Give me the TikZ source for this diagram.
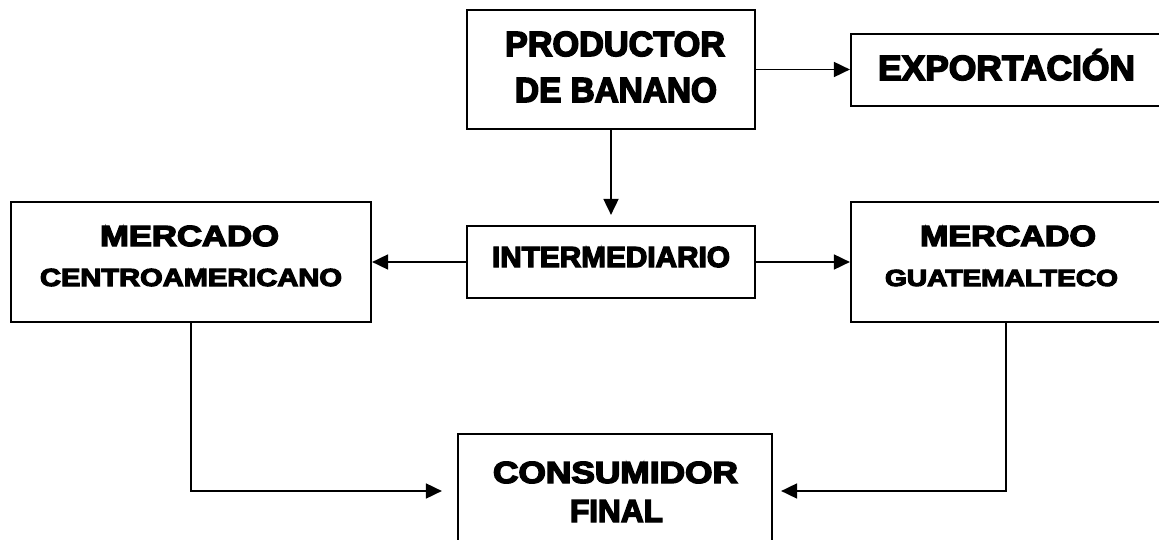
\documentclass[tikz,border=0pt]{standalone}
\usepackage{fontspec}
\usepackage{graphicx}
\setmainfont{Liberation Sans}
\newfontfamily\blk{Liberation Sans}[FakeBold=4.5]
\usetikzlibrary{arrows.meta}
\newcommand\fitt[3]{\resizebox{#1pt}{#2pt}{\blk\bfseries\vphantom{H}\smash{#3}}}
\begin{document}
\begin{tikzpicture}[x=1pt,y=-1pt,
  box/.style={draw=black, line width=2.2pt, inner sep=0pt},
  lbl/.style={inner sep=0pt},
  arr/.style={line width=1.8pt, -{Triangle[length=16pt,width=15pt]}}]
\clip (0,0) rectangle (1159,540);
\fill[white] (0,0) rectangle (1159,540);
% boxes
\node[box, minimum width=288pt, minimum height=119pt] (prod) at (611,69.5) {};
\node[box, minimum width=310pt, minimum height=72pt] (exp) at (1006,70) {};
\node[box, minimum width=288pt, minimum height=72pt] (inter) at (611,262) {};
\node[box, minimum width=360pt, minimum height=120pt] (mc) at (191,262) {};
\node[box, minimum width=310pt, minimum height=120pt] (mg) at (1006,262) {};
\node[box, minimum width=314pt, minimum height=114pt] (cons) at (615,491) {};
% labels
\node[lbl] (t1) at (615,44) {\fitt{220}{24}{PRODUCTOR}};
\node[lbl] (t2) at (616,90) {\fitt{202}{24}{DE BANANO}};
\node[lbl] (t3) at (1006.5,68) {\fitt{257}{24}{EXPORTACIÓN}};
\node[lbl] (t4) at (189.5,236) {\fitt{179}{20}{MERCADO}};
\node[lbl] (t5) at (191,277.5) {\fitt{302}{17}{CENTROAMERICANO}};
\node[lbl] (t6) at (611,257) {\fitt{238}{20}{INTERMEDIARIO}};
\node[lbl] (t7) at (1008,236) {\fitt{176}{20}{MERCADO}};
\node[lbl] (t8) at (1001.5,278) {\fitt{233}{16}{GUATEMALTECO}};
\node[lbl] (t9) at (615.5,472.5) {\fitt{245}{21}{CONSUMIDOR}};
\node[lbl] (t10) at (616.5,511) {\fitt{93}{22}{FINAL}};
% connectors
\draw[arr] (prod.east) -- (prod.east -| exp.west);
\draw[arr, shorten >=10pt] (prod.south) -- (inter.north);
\draw[arr] (inter.west) -- (mc.east);
\draw[arr] (inter.east) -- (mg.west);
\draw[arr, shorten >=15pt] (mc.south) |- (cons.west);
\draw[arr, shorten >=8pt] (mg.south) |- (cons.east);
\end{tikzpicture}
\end{document}
